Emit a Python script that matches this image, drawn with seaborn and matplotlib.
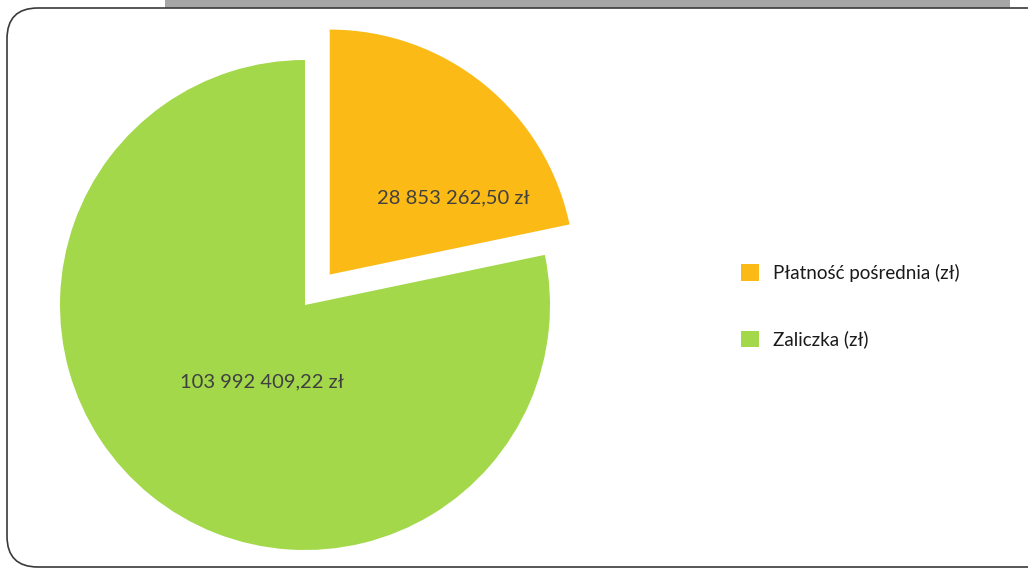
import matplotlib
matplotlib.use("Agg")
import matplotlib.pyplot as plt
import seaborn as sns
from matplotlib.patches import FancyBboxPatch, Rectangle

# data
labels = ["Płatność pośrednia (zł)", "Zaliczka (zł)"]
values = [28853262.50, 103992409.22]
value_texts = ["28 853 262,50 zł", "103 992 409,22 zł"]
colors = ["#FBBA16", "#A2D84A"]

sns.set_theme(style="white")
plt.rcParams["font.family"] = ["Lato", "DejaVu Sans"]

W, H = 1028, 569
fig = plt.figure(figsize=(W / 100, H / 100), dpi=100)
fig.patch.set_facecolor("white")

# decorative frame and grey banner
fig.patches.append(Rectangle((165 / W, 1 - 8 / H), (1010 - 165) / W, 8 / H,
                             transform=fig.transFigure, facecolor="#A6A6A6",
                             edgecolor="none", zorder=0))
fig.patches.append(FancyBboxPatch((7 / W, 1 - 567 / H), 1.2, (567 - 8) / H,
                                  boxstyle="round,pad=0,rounding_size=0.03",
                                  transform=fig.transFigure, facecolor="none",
                                  edgecolor="#3a3a3a", linewidth=1.2,
                                  mutation_aspect=W / H, zorder=1))

# pie axes: centre of the main wedge at (305, 305) px, radius 245 px
cx, cy, r = 305, 305, 245
ax_w = 640
ax = fig.add_axes([0, 0, ax_w / W, 1])
wedges, _ = ax.pie(values, colors=colors, startangle=90, counterclock=False,
                   explode=[0.16, 0.0], radius=1.0,
                   wedgeprops=dict(edgecolor="none"))
ax.set_xlim(-cx / r, (ax_w - cx) / r)
ax.set_ylim(-(H - cy) / r, cy / r)
ax.set_aspect("auto")
ax.axis("off")

# value labels
ax.text((453 - cx) / r, (cy - 198) / r, value_texts[0], ha="center",
        va="center", fontsize=14.5, color="#404040")
ax.text((262 - cx) / r, (cy - 382) / r, value_texts[1], ha="center",
        va="center", fontsize=14.5, color="#404040")

# legend
leg = fig.legend(wedges, labels, loc="upper left",
                 bbox_to_anchor=(724 / W, 1 - 247 / H), frameon=False,
                 fontsize=13.5, handlelength=0.95, handleheight=0.95,
                 labelspacing=2.6, handletextpad=0.75, labelcolor="#1a1a1a")

fig.savefig("out.png", dpi=100, facecolor="white")
